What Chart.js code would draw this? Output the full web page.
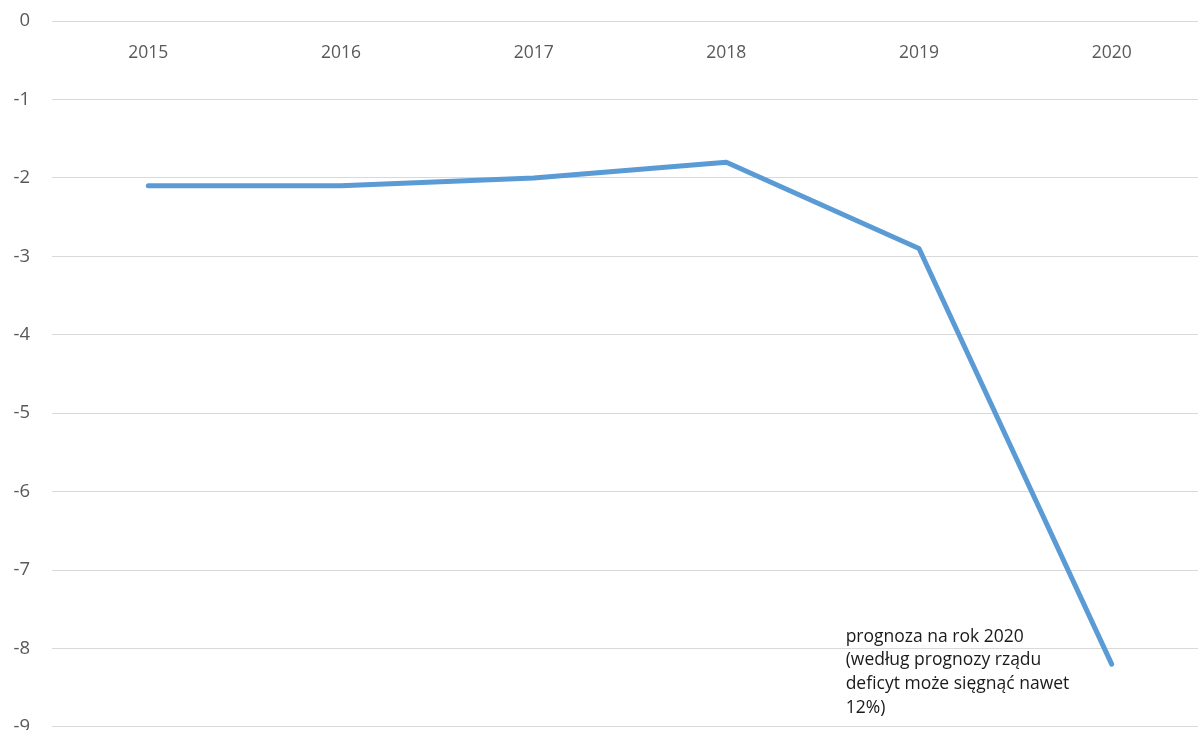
<!DOCTYPE html>
<html>
<head>
<meta charset="utf-8">
<script src="https://cdn.jsdelivr.net/npm/chart.js@4"></script>
<style>
  html, body { margin: 0; padding: 0; background: #fff; overflow: hidden; }
  #wrap { width: 1208px; height: 772px; margin-top: -12px; position: relative; }
</style>
</head>
<body>
<div id="wrap"><canvas id="chartLine"></canvas></div>
<script>
  const years = ["2015", "2016", "2017", "2018", "2019", "2020"];
  const deficit = [-2.1, -2.1, -2.0, -1.8, -2.9, -8.2];
  const yTicks = [0, -1, -2, -3, -4, -5, -6, -7, -8, -9];
  const noteLines = [
    "prognoza na rok 2020",
    "(według prognozy rządu",
    "deficyt może sięgnąć nawet",
    "12%)",
  ];

  const fontFamily = "'Open Sans', 'Noto Sans', sans-serif";

  // text box next to the last point
  const notePlugin = {
    id: "note",
    afterDraw(chart) {
      const ctx = chart.ctx;
      const x = chart.scales.x.getPixelForValue(years.length - 1) - 266;
      let y = chart.scales.y.getPixelForValue(-7.85);
      ctx.save();
      ctx.font = "17.5px " + fontFamily;
      ctx.fillStyle = "#1a1a1a";
      ctx.textBaseline = "middle";
      noteLines.forEach((line, i) => {
        ctx.fillText(line, x, y + i * 23.7);
      });
      ctx.restore();
    },
  };

  const data = {
    labels: years,
    datasets: [
      {
        label: "Deficyt",
        data: deficit,
        borderColor: "#5B9BD5",
        backgroundColor: "#5B9BD5",
        borderWidth: 5,
        pointRadius: 0,
        tension: 0,
        borderCapStyle: "round",
        borderJoinStyle: "round",
      },
    ],
  };

  const config = {
    type: "line",
    data,
    plugins: [notePlugin],
    options: {
      responsive: true,
      maintainAspectRatio: false,
      animation: false,
      layout: { padding: { top: 9, left: 0, right: 0, bottom: 0 } },
      plugins: {
        legend: { display: false },
        tooltip: { enabled: false },
      },
      scales: {
        x: {
          offset: true,
          position: { y: 0 },
          grid: { display: false, drawTicks: false, offset: true },
          border: { display: true, color: "#d9d9d9", width: 1 },
          ticks: {
            color: "#595959",
            font: { size: 17.5, family: fontFamily },
            padding: 21,
          },
        },
        y: {
          min: -9,
          max: 0,
          afterBuildTicks(scale) {
            scale.ticks = yTicks.map((v) => ({ value: v }));
          },
          afterFit(scale) {
            scale.width = 52;
          },
          grid: { color: "#d9d9d9", drawTicks: false },
          border: { display: false },
          ticks: {
            color: "#595959",
            font: { size: 18.5, family: fontFamily },
            padding: 22,
          },
        },
      },
    },
  };

  var chartLine = new Chart(document.getElementById("chartLine"), config);
</script>
</body>
</html>
